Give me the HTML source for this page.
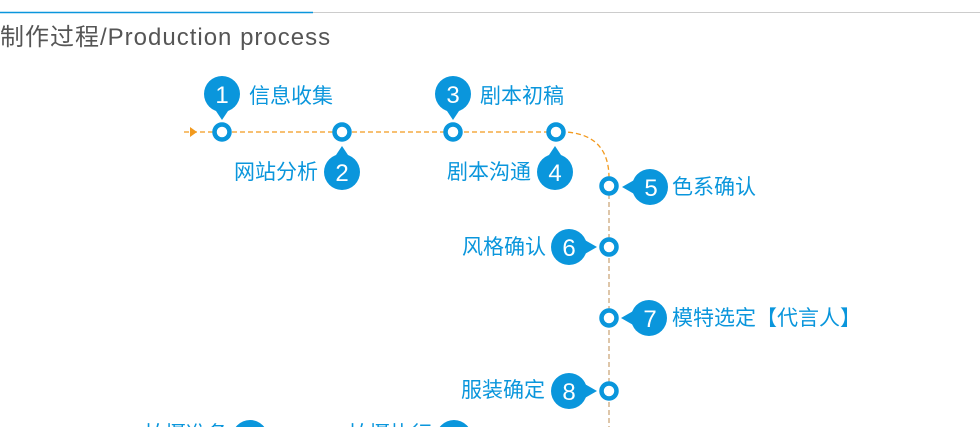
<!DOCTYPE html>
<html><head><meta charset="utf-8"><style>
html,body{margin:0;padding:0;background:#fff;width:980px;height:427px;overflow:hidden}
svg{display:block}
</style></head><body>
<svg width="980" height="427" viewBox="0 0 980 427" xmlns="http://www.w3.org/2000/svg" style="font-family:'Liberation Sans','Noto Sans CJK SC',sans-serif">
<line x1="0" y1="12.5" x2="980" y2="12.5" stroke="#ccc" stroke-width="1"/>
<line x1="0" y1="12.5" x2="313" y2="12.5" stroke="#0a96dc" stroke-width="1.5"/>
<text x="0" y="45" font-size="24" fill="#555" letter-spacing="1">制作过程/Production process</text>
<g stroke="#f29a1e" stroke-width="1.3" stroke-dasharray="5,3" fill="none">
<path d="M184 132 H566 Q609 135 609 178"/>
</g>
<line x1="609" y1="178" x2="609" y2="427" stroke="#c8a070" stroke-width="1.2" stroke-dasharray="5,3"/>
<path d="M190 127 L197 132 L190 137 Z" fill="#f29a1e"/>
<g fill="#0a96dc">
<circle cx="222" cy="94" r="18"/><path d="M214 108 L222 120 L230 108 Z"/>
<circle cx="342" cy="172" r="18"/><path d="M334 158 L342 146 L350 158 Z"/>
<circle cx="453" cy="94" r="18"/><path d="M445 108 L453 120 L461 108 Z"/>
<circle cx="555" cy="172" r="18"/><path d="M547 158 L555 146 L563 158 Z"/>
<circle cx="650" cy="187" r="18"/><path d="M636 179 L622 187 L636 195 Z"/>
<circle cx="569" cy="247" r="18"/><path d="M583 239 L597 247 L583 255 Z"/>
<circle cx="649" cy="318" r="18"/><path d="M635 310 L621 318 L635 326 Z"/>
<circle cx="569" cy="391" r="18"/><path d="M583 383 L597 391 L583 399 Z"/>
<circle cx="250" cy="438" r="18"/>
<circle cx="454" cy="438" r="18"/>
</g>
<g fill="#fff" stroke="#0a96dc" stroke-width="4.5">
<circle cx="222" cy="132" r="7.5"/><circle cx="342" cy="132" r="7.5"/>
<circle cx="453" cy="132" r="7.5"/><circle cx="556" cy="132" r="7.5"/>
<circle cx="609" cy="186" r="7.5"/><circle cx="609" cy="247" r="7.5"/>
<circle cx="609" cy="318" r="7.5"/><circle cx="609" cy="391" r="7.5"/>
</g>
<g fill="#fff" font-size="24" text-anchor="middle">
<text x="222" y="103">1</text><text x="342" y="181">2</text>
<text x="453" y="103">3</text><text x="555" y="181">4</text>
<text x="651" y="196">5</text><text x="569" y="256">6</text>
<text x="650" y="327">7</text><text x="569" y="400">8</text>
</g>
<g fill="#0a96dc" font-size="21">
<text x="249" y="103">信息收集</text>
<text x="318" y="179" text-anchor="end">网站分析</text>
<text x="480" y="103">剧本初稿</text>
<text x="531" y="179" text-anchor="end">剧本沟通</text>
<text x="672" y="194">色系确认</text>
<text x="546" y="254" text-anchor="end">风格确认</text>
<text x="672" y="325">模特选定【代言人】</text>
<text x="545" y="397" text-anchor="end">服装确定</text>
<text x="228" y="441" text-anchor="end">拍摄准备</text>
<text x="432" y="441" text-anchor="end">拍摄执行</text>
</g>
</svg>
</body></html>
